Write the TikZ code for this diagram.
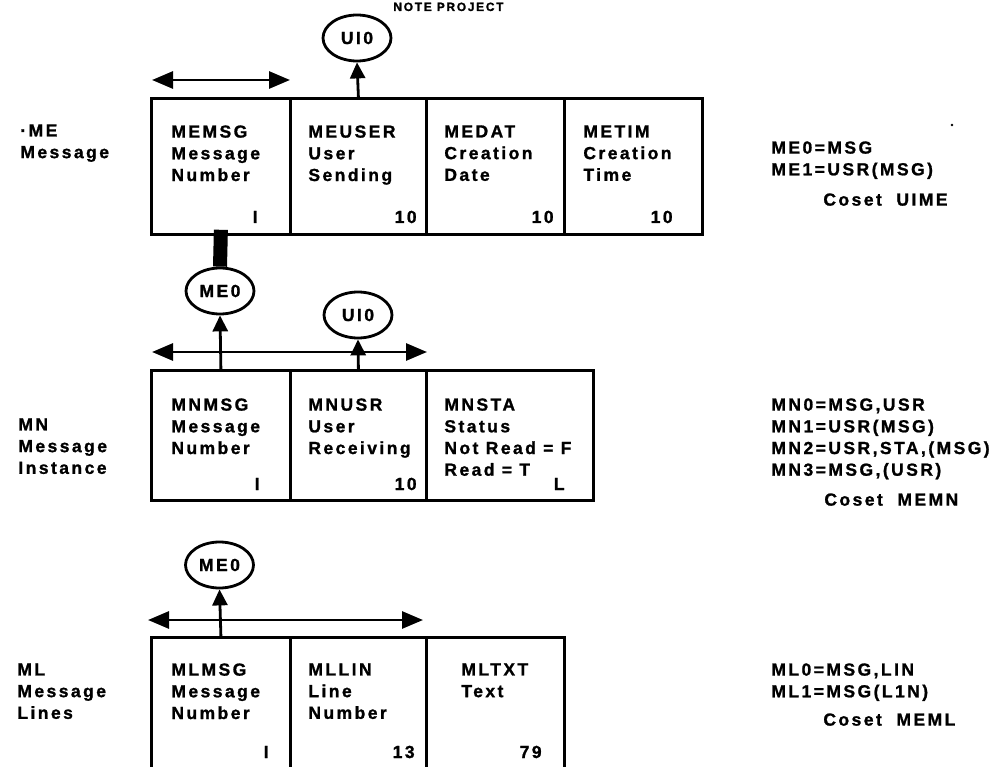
\documentclass[tikz,border=0pt]{standalone}
\usepackage{fontspec}
\newfontfamily\heavyfont{Liberation Sans}[UprightFont={* Bold}, LetterSpace=14, FakeBold=1.2]
\usetikzlibrary{arrows.meta, shapes.geometric, calc}
\newcommand{\fieldfont}{\heavyfont\fontsize{17.5}{21.7}\selectfont}
\tikzset{
  field/.style={draw, rectangle, anchor=north west, inner sep=0, minimum width=#1},
  field/.default=138,
  fname/.style={anchor=north west, align=left, inner sep=0, font=\fieldfont},
  fsize/.style={anchor=base east, inner sep=0, font=\fieldfont},
  key/.style={draw, ellipse, inner sep=0, minimum width=68, minimum height=46, font=\fieldfont},
  up/.style={-{Triangle[length=16pt, width=15pt]}},
  dbl/.style={{Triangle[length=21pt, width=17pt]}-{Triangle[length=21pt, width=17pt]}},
  bar/.style={line width=14pt},
}

\begin{document}
\begin{tikzpicture}[x=1pt, y=-1pt, line width=2.8pt]
  \useasboundingbox (0,0) rectangle (1003,767);
  % ---- title at the top edge
  \node[fname, anchor=base west, font=\heavyfont\fontsize{12}{14}\selectfont] (title) at (392,11) {NOTE PROJECT};
  % ---- ME Message
  \node[fname] (me) at (19,123) {·ME\\Message};
  \node[field=139, minimum height=136] (memsg) at (150,97) {};
  \node[field=136, minimum height=136] (meuser) at (289,97) {};
  \node[field, minimum height=136] (medat) at (425,97) {};
  \node[field, minimum height=136] (metim) at (563,97) {};
  \node[fname] (memsg-t) at (170,124) {MEMSG\\Message\\Number};
  \node[fname] (meuser-t) at (307,124) {MEUSER\\User\\Sending};
  \node[fname] (medat-t) at (443,124) {MEDAT\\Creation\\Date};
  \node[fname] (metim-t) at (582,124) {METIM\\Creation\\Time};
  \node[fsize] (memsg-n) at (259,223) {I};
  \node[fsize] (meuser-n) at (418,223) {10};
  \node[fsize] (medat-n) at (555,223) {10};
  \node[fsize] (metim-n) at (674,223) {10};
  \node[key] (ui0a) at (357,38) {UI0};
  \coordinate (me-l) at (152,80);
  \coordinate (me-r) at (290,80);
  \draw[dbl] (me-l) -- (me-r);
  \draw[up] (meuser.north) -- (ui0a.south);
  \node[fname] (me-c) at (770,140) {ME0=MSG\\ME1=USR(MSG)};
  \node[fname] (me-k) at (822,192) {Coset\ \ UIME};
  \fill (952,125) circle (1.4);
  % ---- MN Message Instance
  \node[fname] (mn) at (17,417) {MN\\Message\\Instance};
  \node[field=139, minimum height=130] (mnmsg) at (150,369) {};
  \node[field=136, minimum height=130] (mnusr) at (289,369) {};
  \node[field=167, minimum height=130] (mnsta) at (425,369) {};
  \node[fname] (mnmsg-t) at (170,397) {MNMSG\\Message\\Number};
  \node[fname] (mnusr-t) at (307,397) {MNUSR\\User\\Receiving};
  \node[fname] (mnsta-t) at (443,397) {MNSTA\\Status\\Not Read = F\\Read = T};
  \node[fsize] (mnmsg-n) at (261,490) {I};
  \node[fsize] (mnusr-n) at (418,490) {10};
  \node[fsize] (mnsta-n) at (566,490) {L};
  \node[key] (me0a) at (220,291) {ME0};
  \node[key] (ui0b) at (358,315) {UI0};
  \coordinate (mn-l) at (152,352);
  \coordinate (mn-r) at (427,352);
  \draw[bar] ([yshift=6pt]memsg.south) -- (me0a.north);
  \draw[dbl] (mn-l) -- (mn-r);
  \draw[up] (mnmsg.north) -- (me0a.south);
  \draw[up] (mnusr.north) -- (ui0b.south);
  \node[fname] (mn-c) at (770,397) {MN0=MSG,USR\\MN1=USR(MSG)\\MN2=USR,STA,(MSG)\\MN3=MSG,(USR)};
  \node[fname] (mn-k) at (823,492) {Coset\ \ MEMN};
  % ---- ML Message Lines
  \node[fname] (ml) at (16,662) {ML\\Message\\Lines};
  \node[field=139, minimum height=140] (mlmsg) at (150,636) {};
  \node[field=136, minimum height=140] (mllin) at (289,636) {};
  \node[field, minimum height=140] (mltxt) at (425,636) {};
  \node[fname] (mlmsg-t) at (170,662) {MLMSG\\Message\\Number};
  \node[fname] (mllin-t) at (307,662) {MLLIN\\Line\\Number};
  \node[fname] (mltxt-t) at (460,662) {MLTXT\\Text};
  \node[fsize] (mlmsg-n) at (270,758) {I};
  \node[fsize] (mllin-n) at (416,758) {13};
  \node[fsize] (mltxt-n) at (543,758) {79};
  \node[key] (me0b) at (219.5,565) {ME0};
  \coordinate (ml-l) at (148,620);
  \coordinate (ml-r) at (423,620);
  \draw[dbl] (ml-l) -- (ml-r);
  \draw[up] (mlmsg.north) -- (me0b.south);
  \node[fname] (ml-c) at (770,662) {ML0=MSG,LIN\\ML1=MSG(L1N)};
  \node[fname] (ml-k) at (822,712) {Coset\ \ MEML};
\end{tikzpicture}
\end{document}
